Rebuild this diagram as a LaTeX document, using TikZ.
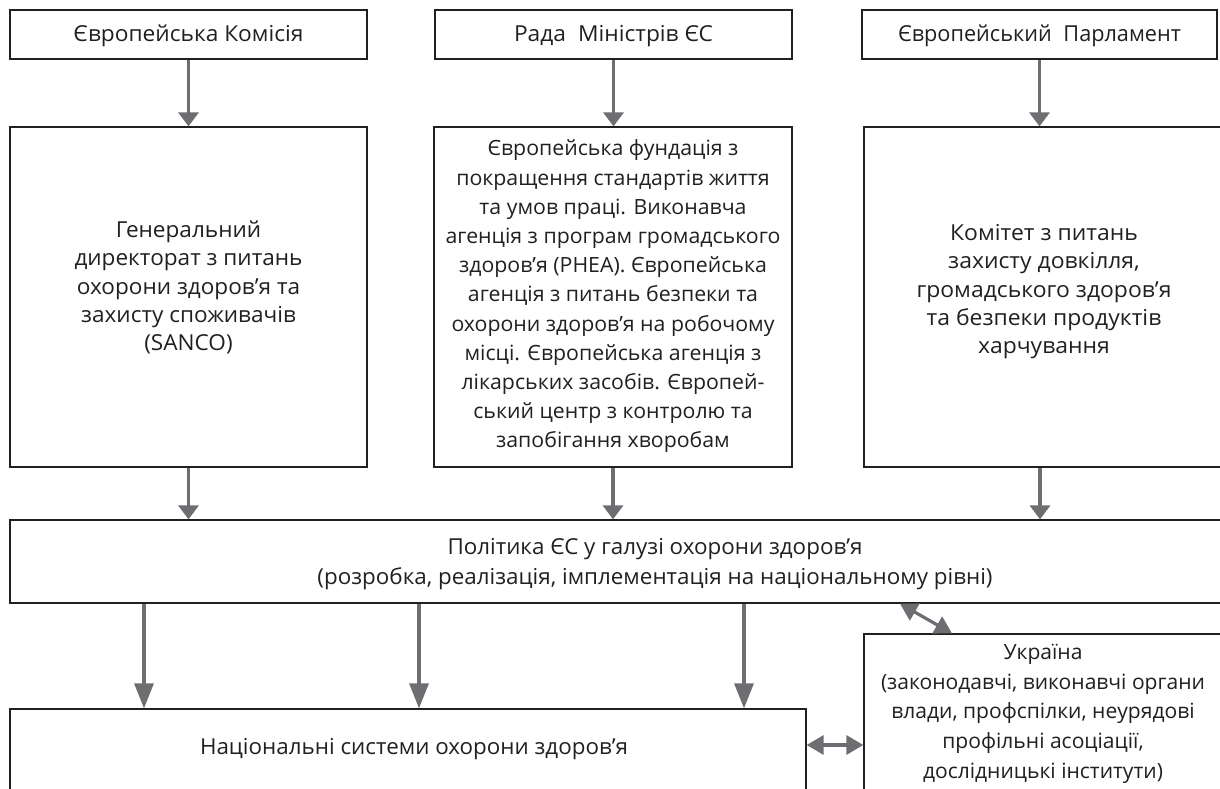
\documentclass[tikz,border=0pt]{standalone}
\usepackage{fontspec}
\usepackage{graphicx}
\setmainfont{Open Sans}
\usetikzlibrary{arrows.meta}
\definecolor{arr}{RGB}{109,110,113}
\definecolor{ink}{RGB}{35,31,32}
\newcommand\fitw[2]{\resizebox{#1}{\height}{\begin{tabular}{@{}c@{}}#2\end{tabular}}}
\newcommand\liftup[2]{\raisebox{#1}[\height][\depth]{#2}}
\begin{document}
\begin{tikzpicture}[x=1pt,y=-1pt,
  box/.style={draw=ink, line width=1.3pt, text=ink, align=center, inner sep=0pt,
    font=\fontsize{22}{28.5}\selectfont},
  flow/.style={draw=arr, line width=3.5pt, -{Triangle[length=14pt,width=20pt]}},
  longflow/.style={draw=arr, line width=3.2pt, -{Triangle[length=25pt,width=19pt]}},
  dflow/.style={draw=arr, line width=3.2pt,
    {Triangle[length=17pt,width=19pt]}-{Triangle[length=17pt,width=19pt]}}]
\useasboundingbox (0,0) rectangle (1220,789);
\clip (0,0) rectangle (1220,789);
% top row
\node[box, minimum width=357pt, minimum height=49pt] (ec) at (188.5,34.5)
  {\liftup{-1pt}{\fitw{230pt}{Європейська Комісія}}};
\node[box, minimum width=357pt, minimum height=49pt] (rada) at (613.5,34.5)
  {\liftup{-1pt}{\fitw{199pt}{Рада\hspace{6pt} Міністрів ЄС}}};
\node[box, minimum width=355pt, minimum height=49pt] (ep) at (1039.5,34.5)
  {\liftup{-1pt}{\fitw{283pt}{Європейський\hspace{6pt} Парламент}}};
% middle row
\node[box, minimum width=357pt, minimum height=340pt, font=\fontsize{22}{28.3}\selectfont] (dg) at (188.5,297)
  {\liftup{8.5pt}{\fitw{228pt}{Генеральний\\директорат з питань\\охорони здоров’я та\\захисту споживачів\\(SANCO)}}};
\node[box, minimum width=358pt, minimum height=340pt, font=\fontsize{21}{29.2}\selectfont] (fd) at (613,297)
  {\liftup{1pt}{\fitw{335pt}{Європейська фундація з\\покращення стандартів життя\\та умов праці. Виконавча\\агенція з програм громадського\\здоров’я (PHEA). Європейська\\агенція з питань безпеки та\\охорони здоров’я на робочому\\місці. Європейська агенція з\\лікарських засобів. Європей-\\ський центр з контролю та\\запобігання хворобам}}};
\node[box, minimum width=360pt, minimum height=340pt, font=\fontsize{22}{28.3}\selectfont] (cm) at (1044,297)
  {\liftup{5.5pt}{\fitw{255pt}{Комітет з питань\\захисту довкілля,\\громадського здоров’я\\та безпеки продуктів\\харчування}}};
% policy
\node[box, minimum width=1290pt, minimum height=83pt, font=\fontsize{22}{30}\selectfont] (pol) at (655,561.5)
  {\liftup{-1.5pt}{\fitw{675pt}{Політика ЄС у галузі охорони здоров’я\\(розробка, реалізація, імплементація на національному рівні)}}};
% bottom
\node[box, minimum width=796pt, minimum height=82pt] (nat) at (408,750)
  {\hspace*{12pt}\liftup{1pt}{\fitw{428pt}{Національні системи охорони здоров’я}}};
\node[box, minimum width=358pt, minimum height=158pt, font=\fontsize{21}{29.7}\selectfont] (ukr) at (1043,713)
  {\fitw{324pt}{Україна\\(законодавчі, виконавчі органи\\влади, профспілки, неурядові\\профільні асоціації,\\дослідницькі інститути)}};
% arrows top -> middle
\draw[flow] (ec.south) -- (ec.south |- dg.north);
\draw[flow] (rada.south) -- (rada.south |- fd.north);
\draw[flow] (ep.south) -- (ep.south |- cm.north);
% middle -> policy
\draw[flow] (dg.south) -- (dg.south |- pol.north);
\draw[flow] (fd.south) -- (fd.south |- pol.north);
\draw[flow] ([xshift=-4pt]cm.south) -- ([xshift=-4pt]cm.south |- pol.north);
% policy -> national
\coordinate (a1) at (144,0);
\coordinate (a2) at (419,0);
\coordinate (a3) at (744,0);
\draw[longflow] (a1 |- pol.south) -- (a1 |- nat.north);
\draw[longflow] (a2 |- pol.south) -- (a2 |- nat.north);
\draw[longflow] (a3 |- pol.south) -- (a3 |- nat.north);
% double arrows
\coordinate (h) at (0,745);
\draw[dflow] (nat.east |- h) -- (ukr.west |- h);
\coordinate (d1) at (900,0);
\coordinate (d2) at (952,0);
\draw[dflow] (d1 |- pol.south) -- (d2 |- ukr.north);
\end{tikzpicture}
\end{document}
